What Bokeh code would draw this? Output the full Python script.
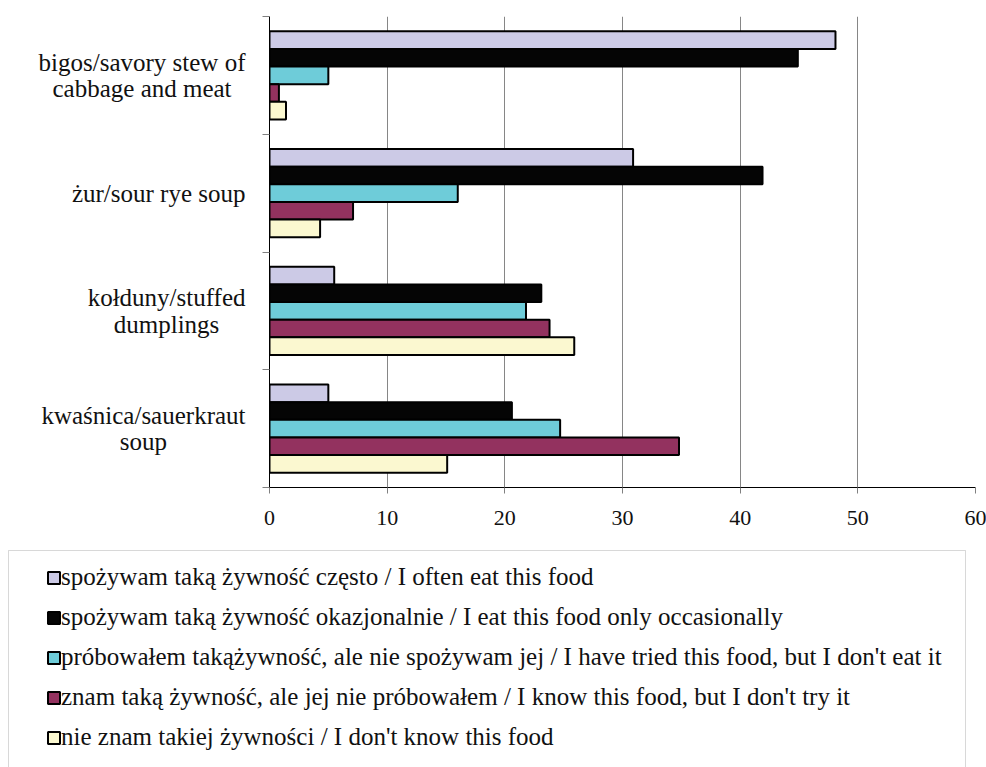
from bokeh.plotting import figure
from bokeh.layouts import row, column
from bokeh.models import (ColumnDataSource, Range1d, FixedTicker, Legend,
                          LegendItem, Label, BoxAnnotation)
from bokeh.transform import dodge
from bokeh.embed import file_html
from bokeh.resources import INLINE

# Dishes, listed top to bottom
categories = [
    "bigos/savory stew of\ncabbage and meat",
    "żur/sour rye soup",
    "kołduny/stuffed\ndumplings",
    "kwaśnica/sauerkraut\nsoup",
]

series_labels = [
    "spożywam taką żywność często / I often eat this food",
    "spożywam taką żywność okazjonalnie / I eat this food only occasionally",
    "próbowałem takążywność, ale nie spożywam jej / I have tried this food, but I don't eat it",
    "znam taką żywność, ale jej nie próbowałem / I know this food, but I don't try it",
    "nie znam takiej żywności / I don't know this food",
]

# Percent of respondents, per dish (same order as categories)
often = [48.1, 30.9, 5.5, 5.0]
occasionally = [44.9, 41.9, 23.1, 20.6]
tried_not_eaten = [5.0, 16.0, 21.8, 24.7]
known_not_tried = [0.8, 7.1, 23.8, 34.8]
unknown = [1.4, 4.3, 25.9, 15.1]

series_values = [often, occasionally, tried_not_eaten, known_not_tried, unknown]
series_colors = ["#CCCAE6", "#050505", "#6ECCD9", "#93325F", "#FBF8D0"]

x_ticks = [0, 10, 20, 30, 40, 50, 60]

FONT = "Liberation Serif"
TEXT = "#111111"
NAN = float("nan")

n_cat = len(categories)
# band centre of each dish on a 0..n_cat scale, first dish at the top
band = [n_cat - i - 0.5 for i in range(n_cat)]

TOP, BOTTOM = 16, 53          # space above / below the plotting area
NAMES_W, AXIS_W = 249, 20     # width of the name column / y-axis strip
CHART_H, LEGEND_H = 540, 227

def bare(fig):
    fig.outline_line_color = None
    fig.background_fill_color = "white"
    fig.border_fill_color = "white"
    return fig

# ---- main bar chart --------------------------------------------------
p = bare(figure(
    width=986 - NAMES_W, height=CHART_H,
    output_backend="svg", toolbar_location=None,
    x_range=Range1d(x_ticks[0], x_ticks[-1]),
    y_range=Range1d(0, n_cat),
    min_border_left=AXIS_W, min_border_right=11,
    min_border_top=TOP, min_border_bottom=BOTTOM,
))

bar_h = 0.15
n = len(series_values)
for j, (vals, color) in enumerate(zip(series_values, series_colors)):
    src = ColumnDataSource(dict(band=band, value=vals))
    offset = ((n - 1) / 2 - j) * bar_h
    p.hbar(y=dodge("band", offset), left=0, right="value",
           height=bar_h, source=src, fill_color=color,
           line_color="black", line_width=2)

xa = p.xaxis[0]
xa.ticker = FixedTicker(ticks=x_ticks)
xa.axis_line_color = "black"
xa.axis_line_width = 1
xa.major_tick_out = 6
xa.major_tick_in = 0
xa.major_tick_line_color = "#808080"
xa.minor_tick_line_color = None
xa.major_label_text_font = FONT
xa.major_label_text_font_size = "22px"
xa.major_label_text_color = TEXT
xa.major_label_standoff = 17

p.xgrid.ticker = xa.ticker
p.xgrid.grid_line_color = "#868686"
p.xgrid.grid_line_width = 1
p.ygrid.grid_line_color = None

# y axis: tick marks on the group boundaries only
bounds = list(range(n_cat + 1))
ya = p.yaxis[0]
ya.ticker = FixedTicker(ticks=bounds)
ya.major_label_overrides = {b: "" for b in bounds}
ya.major_label_standoff = 0
ya.axis_line_color = "black"
ya.axis_line_width = 1
ya.major_tick_out = 7
ya.major_tick_in = 0
ya.major_tick_line_color = "#808080"
ya.minor_tick_line_color = None

# ---- dish names, centred lines in a right-anchored block -------------
names = bare(figure(
    width=NAMES_W, height=CHART_H,
    output_backend="svg", toolbar_location=None,
    x_range=Range1d(0, 1), y_range=Range1d(0, n_cat),
    x_axis_location=None, y_axis_location=None,
    min_border_left=0, min_border_right=0,
    min_border_top=TOP, min_border_bottom=BOTTOM,
))
names.grid.visible = False
for y, cat in zip(band, categories):
    names.add_layout(Label(
        x=NAMES_W - 4, x_units="screen", y=y,
        text=cat,
        anchor="center_right", text_align="center", text_baseline="middle",
        text_font=FONT, text_font_size="25px", text_line_height=0.98,
        text_color=TEXT,
    ))

# ---- legend strip (y measured downward from the strip's top) ---------
leg = bare(figure(
    width=986, height=LEGEND_H,
    output_backend="svg", toolbar_location=None,
    x_range=Range1d(0, 986), y_range=Range1d(LEGEND_H, 0),
    x_axis_location=None, y_axis_location=None,
    min_border_left=0, min_border_right=0,
    min_border_top=0, min_border_bottom=0,
))
leg.grid.visible = False

# open-bottomed frame around the legend
leg.add_layout(BoxAnnotation(
    left=8, right=965, top=10, bottom=LEGEND_H + 40,
    fill_alpha=0, line_color="#7f7f7f", line_width=1,
))

items = []
for lab, color in zip(series_labels, series_colors):
    swatch = leg.hbar(y=[NAN], left=0, right=[NAN], height=1,
                      fill_color=color, line_color="black", line_width=2)
    items.append(LegendItem(label=lab, renderers=[swatch]))

legend = Legend(
    items=items, location=(46, 16), orientation="vertical",
    padding=0, spacing=12, margin=0,
    glyph_width=15, glyph_height=15, label_height=28, label_width=20,
    label_standoff=0,
    label_text_font=FONT, label_text_font_size="25px", label_text_color=TEXT,
    label_text_baseline="middle",
    border_line_color=None, background_fill_alpha=0,
)
leg.add_layout(legend, "center")

layout = column(row(names, p), leg)
open("out.html", "w").write(file_html(layout, INLINE))
